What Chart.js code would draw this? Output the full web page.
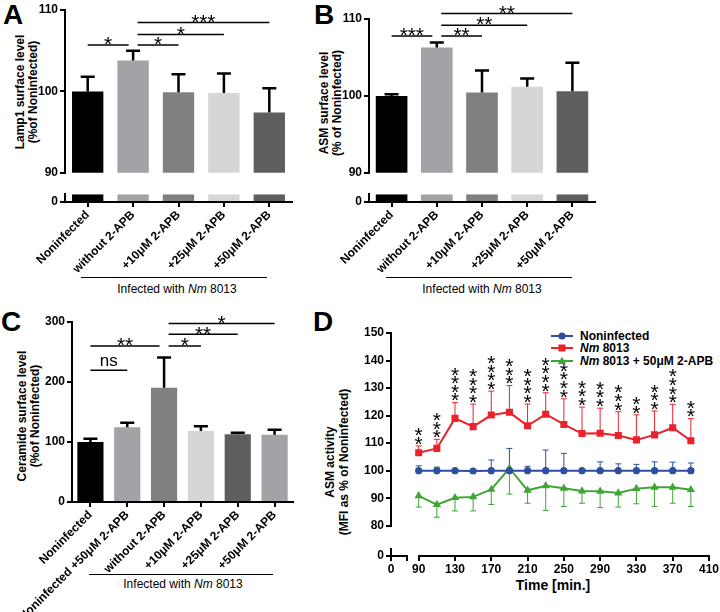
<!DOCTYPE html>
<html>
<head>
<meta charset="utf-8">
<script src="https://cdn.jsdelivr.net/npm/chart.js@4.4.1/dist/chart.umd.min.js"></script>
<style>
  body { margin: 0; background: #fff; font-family: 'Liberation Sans', Arial, sans-serif; }
  #fig { position: relative; width: 720px; height: 612px; overflow: hidden; background: #fff; }
  #fig canvas { position: absolute; }
  .letter { position: absolute; font-weight: bold; font-size: 28px; line-height: 28px; }
  .ytitle { position: absolute; font-weight: bold; font-size: 12px; line-height: 13px; text-align: center;
            white-space: nowrap; transform: translate(-50%, -50%) rotate(-90deg); }
  .group { position: absolute; border-top: 1.5px solid #000; height: 0; }
  .glabel { position: absolute; font-size: 12px; line-height: 14px; transform: translateX(-50%); white-space: nowrap; }
  .xtitle { position: absolute; font-weight: bold; font-size: 14px; line-height: 16px; transform: translateX(-50%); white-space: nowrap; }
  .leg { position: absolute; font-weight: bold; font-size: 12px; }
  .leg div { height: 12.3px; line-height: 12.3px; white-space: nowrap; }
  .leg svg { vertical-align: top; margin-right: 7px; }
</style>
</head>
<body>
<div id="fig">
  <div class="letter" style="left:3px;top:1px">A</div>
  <div class="letter" style="left:314px;top:1px">B</div>
  <div class="letter" style="left:1px;top:308px">C</div>
  <div class="letter" style="left:313px;top:308px">D</div>

  <div class="ytitle" style="left:26.5px;top:92px">Lamp1 surface level<br>(%of Noninfected)</div>
  <div class="ytitle" style="left:330.5px;top:103px">ASM surface level<br>(% of Noninfected)</div>
  <div class="ytitle" style="left:28.5px;top:416px">Ceramide surface level<br>(%of Noninfected)</div>
  <div class="ytitle" style="left:337px;top:462px;line-height:14px">ASM activity<br>(MFI as % of Noninfected)</div>

  <div class="group" style="left:81px;top:277px;width:186px"></div>
  <div class="glabel" style="left:177px;top:282px">Infected with <i>Nm</i> 8013</div>
  <div class="group" style="left:386px;top:277px;width:186px"></div>
  <div class="glabel" style="left:482px;top:282px">Infected with <i>Nm</i> 8013</div>
  <div class="group" style="left:89px;top:574px;width:184px"></div>
  <div class="glabel" style="left:183px;top:577px">Infected with <i>Nm</i> 8013</div>

  <div class="xtitle" style="left:553px;top:577px">Time [min.]</div>

  <div class="leg" style="left:551px;top:330px">
    <div><svg width="22" height="12"><line x1="0" y1="6" x2="22" y2="6" stroke="#2d4f9e" stroke-width="2"/><circle cx="11" cy="6" r="3.6" fill="#2d4f9e"/></svg>Noninfected</div>
    <div><svg width="22" height="12"><line x1="0" y1="6" x2="22" y2="6" stroke="#e8232b" stroke-width="2"/><rect x="7.5" y="2.5" width="7" height="7" fill="#e8232b"/></svg><i>Nm</i> 8013</div>
    <div><svg width="22" height="12"><line x1="0" y1="6" x2="22" y2="6" stroke="#3fa535" stroke-width="2"/><polygon points="11,1.8 15.2,9 6.8,9" fill="#3fa535"/></svg><i>Nm</i> 8013 + 50μM 2-APB</div>
  </div>
</div>

<script>
// ---- panel A / B: surface levels ----
const catsAB = ['Noninfected', 'without 2-APB', '+10μM 2-APB', '+25μM 2-APB', '+50μM 2-APB'];
const lamp1Mean = [100, 103.8, 99.9, 99.8, 97.4];
const lamp1Sem = [1.8, 1.2, 2.2, 2.4, 3.0];
const asmMean = [100, 106.3, 100.45, 101.2, 100.6];
const asmSem = [0.2, 0.65, 2.85, 1.05, 3.7];

// ---- panel C: ceramide ----
const catsC = ['Noninfected', 'Noninfected +50μM 2-APB', 'without 2-APB', '+10μM 2-APB', '+25μM 2-APB', '+50μM 2-APB'];
const ceramideMean = [100, 124.4, 190.6, 118.4, 112.8, 112.2];
const ceramideSem = [5.6, 7.8, 50.4, 7.7, 2.8, 8.4];

// ---- panel D: ASM activity over time ----
const timeMin = [90, 110, 130, 150, 170, 190, 210, 230, 250, 270, 290, 310, 330, 350, 370, 390];
const nonMean = [100, 100, 100, 99.9, 100, 100, 100, 100, 100, 100, 100, 100, 100, 100, 100, 100];
const nonSem = [1.8, 1.3, 0.2, 0.3, 3.9, 8.1, 1.6, 7.5, 6.3, 0.3, 3.2, 2.5, 2.3, 3.2, 3.1, 2.8];
const nmMean = [106.5, 108.1, 119.0, 116.0, 120.2, 121.2, 116.3, 120.5, 116.8, 113.5, 113.6, 112.8, 111.2, 113.0, 115.6, 110.9];
const nmSem = [2.5, 3.3, 5.7, 8.2, 8.7, 9.7, 7.9, 7.8, 9.3, 9.6, 9.1, 8.6, 9.1, 8.7, 8.5, 8.0];
const apbMean = [90.9, 87.7, 90.2, 90.5, 93.2, 100.9, 92.9, 94.5, 93.6, 92.6, 92.5, 91.9, 93.5, 94.0, 94.0, 93.1];
const apbSem = [4.1, 4.6, 4.8, 5.1, 5.5, 9.4, 4.7, 8.9, 6.6, 4.4, 5.9, 5.1, 5.5, 7.0, 5.8, 6.1];
const nmSig = ['**', '***', '****', '****', '****', '***', '****', '****', '****', '***', '***', '***', '**', '***', '****', '**'];

// significance brackets: [from, to, level, label]
const sigA = [[0, 1, 105.7, '*'], [1, 2, 105.7, '*'], [1, 3, 107.0, '*'], [1, 4, 108.45, '***']];
const sigB = [[0, 1, 107.8, '***'], [1, 2, 107.8, '**'], [1, 3, 109.2, '**'], [1, 4, 110.7, '**']];
const sigC = [[0, 1, 219.5, 'ns'], [0, 2, 260, '**'], [2, 3, 260, '*'], [2, 4, 279.5, '**'], [2, 5, 297.3, '*']];

// tick labels
const ticksAUp = [90, 100, 110];
const ticksBUp = [90, 100, 110];
const ticksLow = [0, 10];
const ticksC = [0, 100, 200, 300];
const ticksDY = [80, 90, 100, 110, 120, 130, 140, 150];
const ticksDX = [90, 130, 170, 210, 250, 290, 330, 370, 410];

// colours
const greysAB = ['#000000', '#a2a2a7', '#808080', '#d6d6d6', '#5e5e5e'];
const greysC = ['#000000', '#a2a2a7', '#808080', '#d6d6d6', '#5e5e5e', '#a2a2a7'];
const blue = '#2d4f9e', red = '#e8232b', green = '#3fa535';

Chart.defaults.font.family = "'Liberation Sans', Arial, sans-serif";
Chart.defaults.font.size = 12;
Chart.defaults.font.weight = 'bold';
Chart.defaults.color = '#000';

const fig = document.getElementById('fig');
function makeCanvas(left, top, w, h) {
  const c = document.createElement('canvas');
  c.width = w; c.height = h;
  c.style.cssText = `left:${left}px;top:${top}px;width:${w}px;height:${h}px`;
  fig.appendChild(c);
  return c;
}

const axisLine = { color: '#000', width: 2 };
const tickGrid = () => ({ drawOnChartArea: false, drawTicks: true, tickLength: 5, color: '#000', lineWidth: 2, offset: false });

function drawStars(ctx, n, cx, cy, size, gap, vertical) {
  ctx.font = size + "px 'Liberation Sans', Arial, sans-serif";
  ctx.textAlign = 'center';
  ctx.textBaseline = 'alphabetic';
  for (let k = 0; k < n; k++) {
    if (vertical) ctx.fillText('*', cx, cy - k * gap + 0.585 * size);
    else ctx.fillText('*', cx + (k - (n - 1) / 2) * gap, cy + 0.585 * size);
  }
}

// black SEM bars on top of the bar chart
const barErrors = {
  id: 'barErrors',
  afterDatasetsDraw(chart, args, opts) {
    const { ctx } = chart;
    const ys = chart.scales.y;
    const vals = chart.data.datasets[0].data;
    ctx.save();
    ctx.strokeStyle = '#000';
    ctx.lineWidth = 2.5;
    chart.getDatasetMeta(0).data.forEach((bar, i) => {
      const y0 = ys.getPixelForValue(vals[i]);
      const y1 = ys.getPixelForValue(vals[i] + opts.errors[i]);
      ctx.beginPath();
      ctx.moveTo(bar.x, y0); ctx.lineTo(bar.x, y1);
      ctx.moveTo(bar.x - 7, y1); ctx.lineTo(bar.x + 7, y1);
      ctx.stroke();
    });
    ctx.restore();
  }
};

// significance brackets above the bars
const sigMarks = {
  id: 'sigMarks',
  afterDraw(chart, args, opts) {
    const { ctx } = chart;
    const xs = chart.scales.x, ys = chart.scales.y;
    ctx.save();
    ctx.strokeStyle = '#000';
    ctx.fillStyle = '#000';
    opts.marks.forEach(([a, b, level, txt]) => {
      let x1 = xs.getPixelForValue(a), x2 = xs.getPixelForValue(b);
      if (a === opts.hub) x1 += 4.5;
      if (b === opts.hub) x2 -= 4.5;
      const y = ys.getPixelForValue(level);
      ctx.lineWidth = 1.5;
      ctx.beginPath(); ctx.moveTo(x1, y); ctx.lineTo(x2, y); ctx.stroke();
      if (txt === 'ns') {
        ctx.font = "17px 'Liberation Sans', Arial, sans-serif";
        ctx.textAlign = 'center';
        ctx.textBaseline = 'alphabetic';
        ctx.fillText(txt, (x1 + x2) / 2, y - 4);
      } else {
        drawStars(ctx, txt.length, (x1 + x2) / 2, y - 6, 21, 8, false);
      }
    });
    ctx.restore();
  }
};

function barChart(cv, o) {
  return new Chart(cv, {
    type: 'bar',
    data: {
      labels: o.labels,
      datasets: [{ data: o.values, backgroundColor: o.colors, barPercentage: o.barPct, categoryPercentage: 1 }]
    },
    options: {
      responsive: false,
      animation: false,
      layout: { padding: o.pad },
      plugins: {
        legend: { display: false },
        tooltip: { enabled: false },
        barErrors: o.errors ? { errors: o.errors } : false,
        sigMarks: o.marks ? { marks: o.marks, hub: o.hub } : false
      },
      scales: {
        x: {
          display: o.showX,
          grid: tickGrid(),
          border: axisLine,
          ticks: { autoSkip: false, minRotation: 45, maxRotation: 45, padding: 1 },
          afterFit: s => { s.height = o.xH; }
        },
        y: {
          min: o.yMin, max: o.yMax,
          grid: tickGrid(),
          border: axisLine,
          ticks: { padding: 2, callback: o.yLabel || (v => v) },
          afterBuildTicks: s => { s.ticks = o.yTicks.map(v => ({ value: v })); },
          afterFit: s => { s.width = o.yW; }
        }
      }
    },
    plugins: [barErrors, sigMarks]
  });
}

const lowPart = vals => vals.map(v => Math.min(v, 10));

// ---- A ----
barChart(makeCanvas(0, 0, 300, 182), {
  labels: catsAB, values: lamp1Mean, colors: greysAB, barPct: 0.69,
  pad: { top: 10, bottom: 4, right: 8, left: 0 }, showX: false, xH: 0,
  yMin: 90, yMax: 110, yTicks: ticksAUp, yW: 65,
  errors: lamp1Sem, marks: sigA, hub: 1
});
barChart(makeCanvas(0, 185, 300, 100), {
  labels: catsAB, values: lowPart(lamp1Mean), colors: greysAB, barPct: 0.69,
  pad: { top: 5, bottom: 0, right: 8, left: 0 }, showX: true, xH: 83,
  yMin: 0, yMax: 10, yTicks: ticksLow, yW: 65, yLabel: v => (v === 0 ? '0' : '')
});

// ---- B ----
barChart(makeCanvas(300, 0, 305, 182), {
  labels: catsAB, values: asmMean, colors: greysAB, barPct: 0.70,
  pad: { top: 19, bottom: 4, right: 10, left: 0 }, showX: false, xH: 0,
  yMin: 90, yMax: 110, yTicks: ticksBUp, yW: 69,
  errors: asmSem, marks: sigB, hub: 1
});
barChart(makeCanvas(300, 185, 305, 100), {
  labels: catsAB, values: lowPart(asmMean), colors: greysAB, barPct: 0.70,
  pad: { top: 4, bottom: 0, right: 10, left: 0 }, showX: true, xH: 83,
  yMin: 0, yMax: 10, yTicks: ticksLow, yW: 69
});

// ---- C ----
barChart(makeCanvas(0, 300, 300, 312), {
  labels: catsC, values: ceramideMean, colors: greysC, barPct: 0.71,
  pad: { top: 22, bottom: 0, right: 7, left: 0 }, showX: true, xH: 110,
  yMin: 0, yMax: 300, yTicks: ticksC, yW: 72,
  errors: ceramideSem, marks: sigC, hub: 2
});

// ---- D ----
// x axis is broken: 0 sits on a short stub, 90..410 on the main part
const dLeft = 391, d90 = 418.7, dRight = 709;
const pxPerMin = (dRight - d90) / (410 - 90);
const xMinD = 90 - (d90 - dLeft) / pxPerMin;

// SEM whiskers for the time course (one direction per series)
const lineErrors = {
  id: 'lineErrors',
  beforeDatasetsDraw(chart) {
    const { ctx } = chart;
    const ys = chart.scales.y;
    ctx.save();
    ctx.lineWidth = 1;
    chart.data.datasets.forEach((ds, d) => {
      ctx.strokeStyle = ds.borderColor;
      chart.getDatasetMeta(d).data.forEach((pt, i) => {
        const y2 = ys.getPixelForValue(ds.data[i].y + ds.errDir * ds.errors[i]);
        ctx.beginPath();
        ctx.moveTo(pt.x, pt.y); ctx.lineTo(pt.x, y2);
        ctx.moveTo(pt.x - 3, y2); ctx.lineTo(pt.x + 3, y2);
        ctx.stroke();
      });
    });
    ctx.restore();
  }
};

// stacked asterisks above the Nm 8013 whiskers
const timeStars = {
  id: 'timeStars',
  afterDatasetsDraw(chart, args, opts) {
    const { ctx } = chart;
    const ys = chart.scales.y;
    const ds = chart.data.datasets[opts.index];
    ctx.save();
    ctx.fillStyle = '#000';
    chart.getDatasetMeta(opts.index).data.forEach((pt, i) => {
      const capY = ys.getPixelForValue(ds.data[i].y + ds.errors[i]);
      drawStars(ctx, opts.labels[i].length, pt.x, capY - 7.5, 21, 8.6, true);
    });
    ctx.restore();
  }
};

function series(label, mean, sem, dir, color, style, radius) {
  return {
    label,
    data: timeMin.map((t, i) => ({ x: t, y: mean[i] })),
    errors: sem, errDir: dir,
    borderColor: color, backgroundColor: color, borderWidth: 2,
    pointStyle: style, pointRadius: radius, pointBorderWidth: 0
  };
}

new Chart(makeCanvas(350, 320, 370, 215), {
  type: 'line',
  data: {
    datasets: [
      series('Noninfected', nonMean, nonSem, 1, blue, 'circle', 3.6),
      series('Nm 8013', nmMean, nmSem, 1, red, 'rect', 5),
      series('Nm 8013 + 50μM 2-APB', apbMean, apbSem, -1, green, 'triangle', 4.8)
    ]
  },
  options: {
    responsive: false,
    animation: false,
    layout: { padding: { top: 13, bottom: 2, right: 11, left: 0 } },
    plugins: { legend: { display: false }, tooltip: { enabled: false }, timeStars: { index: 1, labels: nmSig } },
    scales: {
      x: { type: 'linear', display: false, min: xMinD, max: 410 },
      y: {
        min: 80, max: 150,
        grid: tickGrid(),
        border: axisLine,
        ticks: { padding: 2 },
        afterBuildTicks: s => { s.ticks = ticksDY.map(v => ({ value: v })); },
        afterFit: s => { s.width = dLeft - 350; }
      }
    }
  },
  plugins: [lineErrors, timeStars]
});

// left stub of the broken axes (y 0 and x 0)
const stubX = 16 / pxPerMin;
new Chart(makeCanvas(350, 540, 60, 40), {
  type: 'scatter',
  data: { datasets: [] },
  options: {
    responsive: false,
    animation: false,
    layout: { padding: { top: 5, bottom: 0, right: 3, left: 0 } },
    plugins: { legend: { display: false }, tooltip: { enabled: false } },
    scales: {
      x: {
        type: 'linear', min: 0, max: stubX,
        grid: tickGrid(), border: axisLine,
        ticks: { padding: 1, callback: v => (v === 0 ? '0' : '') },
        afterBuildTicks: s => { s.ticks = [{ value: 0 }, { value: stubX }]; },
        afterFit: s => { s.height = 24; }
      },
      y: {
        type: 'linear', min: 0, max: 4,
        grid: tickGrid(), border: axisLine,
        ticks: { padding: 2, callback: v => (v === 0 ? '0' : '') },
        afterBuildTicks: s => { s.ticks = [{ value: 0 }, { value: 4 }]; },
        afterFit: s => { s.width = dLeft - 350; }
      }
    }
  }
});

// main part of the time axis
new Chart(makeCanvas(410, 540, 310, 40), {
  type: 'scatter',
  data: { datasets: [] },
  options: {
    responsive: false,
    animation: false,
    layout: { padding: { top: 5, bottom: 0, right: 720 - dRight, left: d90 - 410 } },
    plugins: { legend: { display: false }, tooltip: { enabled: false } },
    scales: {
      x: {
        type: 'linear', min: 90, max: 410,
        grid: tickGrid(), border: axisLine,
        ticks: { padding: 1 },
        afterBuildTicks: s => { s.ticks = ticksDX.map(v => ({ value: v })); },
        afterFit: s => { s.height = 24; }
      },
      y: { type: 'linear', display: false, min: 0, max: 4 }
    }
  }
});
</script>
</body>
</html>
